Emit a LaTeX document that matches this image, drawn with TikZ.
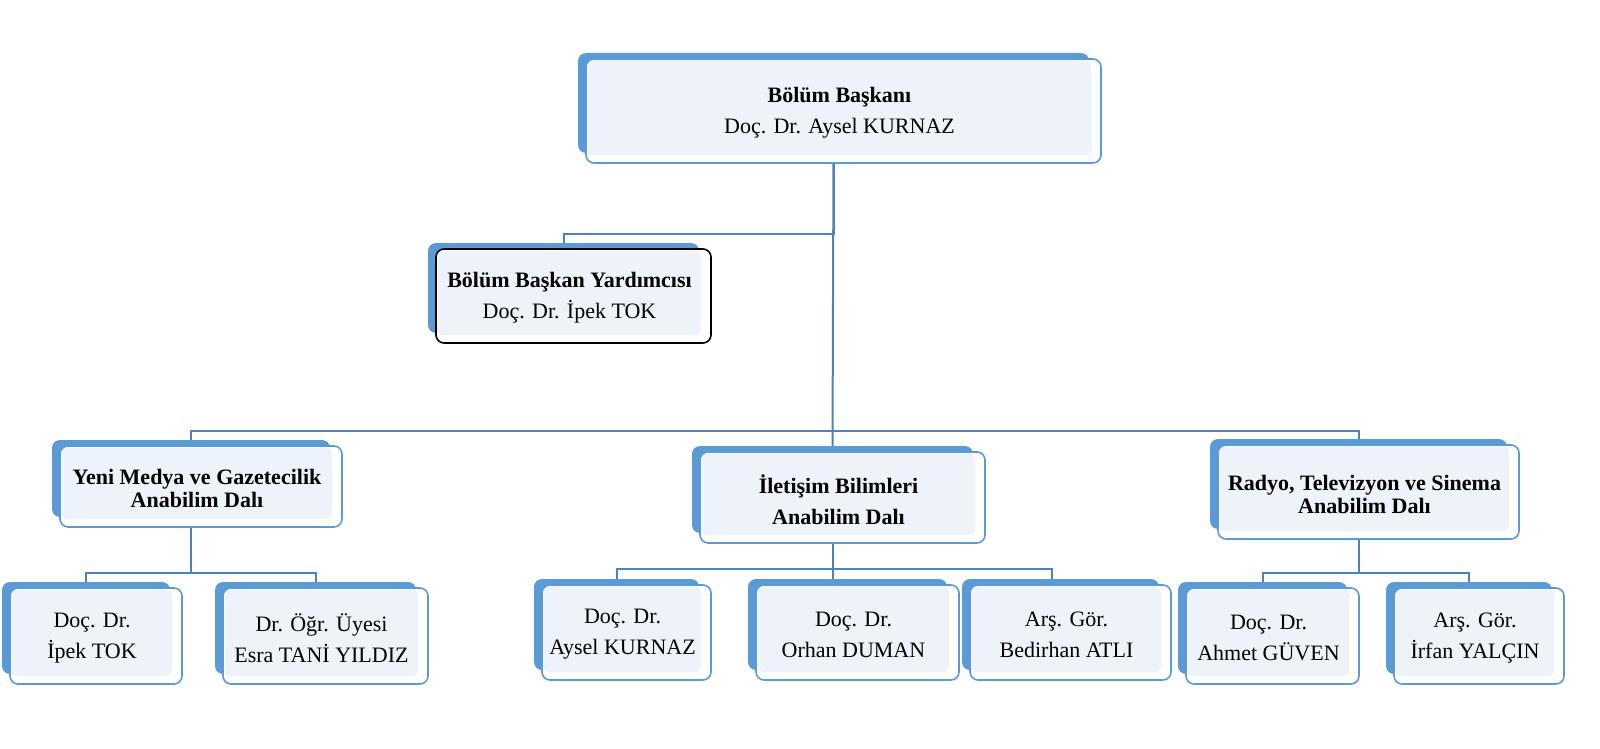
\documentclass[tikz,border=0pt]{standalone}
\usepackage{fontspec}
\setmainfont{Liberation Serif}
\usetikzlibrary{backgrounds}

\definecolor{backblue}{HTML}{5B9BD5}
\definecolor{boxline}{HTML}{5B9BD5}
\definecolor{boxfill}{HTML}{EEF3FA}
\definecolor{linkblue}{HTML}{4F81BD}

\tikzset{
  backbox/.style={fill=backblue, rounded corners=8pt, inner sep=0pt, outer sep=0pt},
  boxtext/.style={align=center, inner sep=0pt, font=\fontsize{22}{31}\selectfont},
  link/.style={draw=linkblue, line width=2pt},
}

% box: back plate, front frame, light fill, text node
\newcommand{\orgbox}[7][boxline]{%
  \node[backbox, minimum width={#5-#3-4}, minimum height={#6-#4-4}]
    (#2-b) at ({(#3+#5)/2-10},{(#4+#6)/2-8}) {};
  \draw[#1, line width=1.6pt, fill=white, rounded corners=8pt] (#3,#4) rectangle (#5,#6);
  \fill[boxfill, rounded corners=6pt] (#3+1.5,#4+1.5) rectangle (#5-10,#6-8);
  \node[boxtext] (#2) at ({(#3+#5)/2-4},{(#4+#6)/2+2}) {#7};
}

\begin{document}
\begin{tikzpicture}[x=1pt, y=-1pt]

  \useasboundingbox (0,0) rectangle (1600,749);

  % head and deputy
  \orgbox{head}{586}{59}{1101}{163}{\textbf{Bölüm Başkanı}\\Doç. Dr. Aysel KURNAZ}
  \orgbox[black]{deputy}{436}{249}{711}{343}{\textbf{Bölüm Başkan Yardımcısı}\\Doç. Dr. İpek TOK}

  % departments
  \orgbox{media}{60}{446}{342}{527}{\textbf{Yeni Medya ve Gazetecilik}\\[-8pt]\textbf{Anabilim Dalı}}
  \orgbox{comm}{700}{452}{985}{543}{\textbf{İletişim Bilimleri}\\\textbf{Anabilim Dalı}}
  \orgbox{radio}{1218}{445}{1519}{539}{\textbf{Radyo, Televizyon ve Sinema}\\[-8pt]\textbf{Anabilim Dalı}}

  % staff
  \orgbox{ipek}{10}{588}{182}{684}{Doç. Dr.\\İpek TOK}
  \orgbox{esra}{223}{588}{428}{684}{Dr. Öğr. Üyesi\\Esra TANİ YILDIZ}
  \orgbox{aysel}{542}{585}{711}{680}{Doç. Dr.\\Aysel KURNAZ}
  \orgbox{orhan}{756}{585}{959}{680}{Doç. Dr.\\Orhan DUMAN}
  \orgbox{bedirhan}{970}{585}{1171}{680}{Arş. Gör.\\Bedirhan ATLI}
  \orgbox{ahmet}{1186}{588}{1359}{684}{Doç. Dr.\\Ahmet GÜVEN}
  \orgbox{irfan}{1394}{588}{1564}{684}{Arş. Gör.\\İrfan YALÇIN}

  \begin{pgfonlayer}{background}
    % head to departments
    \draw[link] (head-b.south) -- (comm-b.north);
    \draw[link] (deputy-b.north) -- ++(0,-9) -| (head-b.south);
    \draw[link] (media-b.north) -- ++(0,-9) -| (radio-b.north);

    % departments to staff
    \draw[link] (ipek-b.north) -- ++(0,-9) coordinate (mj) -| (esra-b.north);
    \draw[link] (media-b.south) -- (media-b.south |- mj);
    \draw[link] (aysel-b.north) -- ++(0,-10) -| ([xshift=-9pt]bedirhan-b.north);
    \draw[link] (comm-b.south) -- (comm-b.south |- orhan-b.north);
    \draw[link] (ahmet-b.north) -- ++(0,-9) coordinate (rj) -| (irfan-b.north);
    \draw[link] (radio-b.south) -- (radio-b.south |- rj);
  \end{pgfonlayer}

\end{tikzpicture}
\end{document}
